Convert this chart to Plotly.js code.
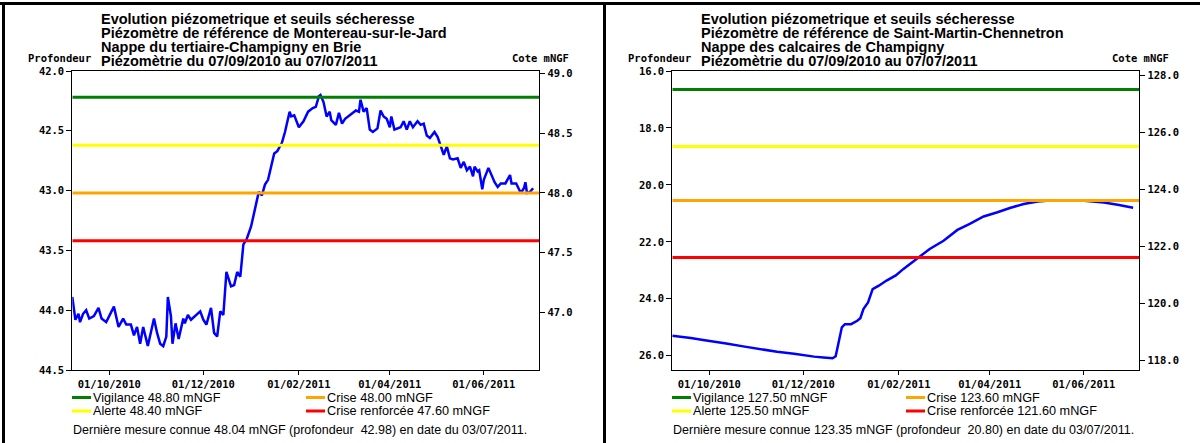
<!DOCTYPE html>
<html><head><meta charset="utf-8">
<script src="https://cdn.plot.ly/plotly-3.0.1.min.js"></script>
<style>html,body{margin:0;padding:0;background:#fff}</style>
</head><body><div id="chart" style="width:1200px;height:443px"></div>
<script>
// ---------- DATA ----------
const leftDates = ['2010-09-07','2010-09-09','2010-09-11','2010-09-12','2010-09-14','2010-09-16','2010-09-18','2010-09-21','2010-09-24','2010-09-26','2010-09-29','2010-10-04','2010-10-07','2010-10-10','2010-10-12','2010-10-15','2010-10-17','2010-10-19','2010-10-21','2010-10-23','2010-10-26','2010-10-30','2010-11-01','2010-11-03','2010-11-05','2010-11-07','2010-11-08','2010-11-10','2010-11-11','2010-11-13','2010-11-15','2010-11-18','2010-11-19','2010-11-21','2010-11-23','2010-11-29','2010-12-01','2010-12-03','2010-12-06','2010-12-08','2010-12-10','2010-12-12','2010-12-14','2010-12-16','2010-12-19','2010-12-21','2010-12-23','2010-12-25','2010-12-27','2010-12-29','2011-01-01','2011-01-04','2011-01-06','2011-01-08','2011-01-10','2011-01-12','2011-01-14','2011-01-16','2011-01-18','2011-01-21','2011-01-23','2011-01-26','2011-01-27','2011-01-29','2011-02-01','2011-02-04','2011-02-07','2011-02-10','2011-02-12','2011-02-14','2011-02-15','2011-02-17','2011-02-19','2011-02-21','2011-02-22','2011-02-25','2011-02-27','2011-03-01','2011-03-03','2011-03-06','2011-03-10','2011-03-12','2011-03-13','2011-03-15','2011-03-17','2011-03-19','2011-03-21','2011-03-24','2011-03-26','2011-03-28','2011-03-30','2011-04-01','2011-04-02','2011-04-04','2011-04-08','2011-04-10','2011-04-12','2011-04-14','2011-04-16','2011-04-19','2011-04-21','2011-04-23','2011-04-25','2011-04-27','2011-04-30','2011-05-02','2011-05-04','2011-05-06','2011-05-08','2011-05-10','2011-05-12','2011-05-15','2011-05-17','2011-05-19','2011-05-21','2011-05-23','2011-05-25','2011-05-26','2011-05-28','2011-05-29','2011-05-31','2011-06-01','2011-06-04','2011-06-06','2011-06-08','2011-06-10','2011-06-12','2011-06-15','2011-06-18','2011-06-19','2011-06-22','2011-06-25','2011-06-27','2011-06-28','2011-06-29','2011-07-01','2011-07-03'];
const leftDepth = [43.89,44.08,44.03,44.10,44.03,44.00,44.07,44.05,43.98,44.07,44.10,43.97,44.14,44.07,44.12,44.12,44.21,44.14,44.28,44.14,44.30,44.07,44.19,44.28,44.30,44.22,43.89,44.05,44.28,44.11,44.24,44.07,44.11,44.04,44.08,44.01,44.08,44.12,43.98,44.19,44.22,44.01,44.04,43.68,43.80,43.79,43.68,43.72,43.45,43.41,43.30,43.13,43.01,43.04,42.95,42.91,42.80,42.69,42.67,42.60,42.51,42.34,42.38,42.37,42.47,42.42,42.34,42.31,42.30,42.21,42.20,42.26,42.38,42.34,42.41,42.45,42.35,42.44,42.40,42.37,42.33,42.34,42.24,42.34,42.31,42.49,42.51,42.48,42.33,42.38,42.40,42.47,42.38,42.49,42.47,42.42,42.49,42.42,42.47,42.42,42.45,42.44,42.54,42.56,42.51,42.55,42.63,42.70,42.63,42.73,42.74,42.73,42.81,42.76,42.83,42.80,42.88,42.80,42.84,42.83,42.99,42.91,42.81,42.87,42.93,42.97,42.94,42.94,42.87,42.94,42.94,43.02,42.98,42.93,43.02,43.01,42.98];

const rightDates = ['2010-09-07','2010-09-12','2010-09-19','2010-09-27','2010-10-04','2010-10-12','2010-10-23','2010-11-03','2010-11-14','2010-11-25','2010-12-01','2010-12-08','2010-12-14','2010-12-20','2010-12-22','2010-12-23','2010-12-24','2010-12-25','2010-12-26','2010-12-28','2011-01-01','2011-01-05','2011-01-07','2011-01-09','2011-01-12','2011-01-15','2011-01-19','2011-01-24','2011-01-30','2011-02-04','2011-02-08','2011-02-14','2011-02-21','2011-03-02','2011-03-11','2011-03-19','2011-03-28','2011-04-06','2011-04-14','2011-04-23','2011-05-02','2011-05-10','2011-05-19','2011-05-28','2011-06-05','2011-06-14','2011-06-23','2011-06-29','2011-07-03'];
const rightDepth = [25.30,25.33,25.38,25.45,25.50,25.57,25.67,25.77,25.86,25.93,25.98,26.03,26.06,26.09,26.02,25.77,25.40,25.15,25.00,24.89,24.89,24.77,24.68,24.36,24.13,23.66,23.54,23.36,23.18,22.95,22.78,22.55,22.25,21.96,21.58,21.37,21.11,20.96,20.81,20.67,20.58,20.55,20.55,20.54,20.57,20.62,20.70,20.76,20.80];

const thresholdNames  = ['Vigilance','Alerte','Crise','Crise renforcée'];
const thresholdColors = ['#008000','#ffff00','#ffa500','#ff0000'];
const leftThresholds  = [48.80, 48.40, 48.00, 47.60];
const rightThresholds = [127.50, 125.50, 123.60, 121.60];

const leftTitles  = ['Evolution piézometrique et seuils sécheresse','Piézomètre de référence de Montereau-sur-le-Jard','Nappe du tertiaire-Champigny en Brie','Piézomètrie du 07/09/2010 au 07/07/2011'];
const rightTitles = ['Evolution piézometrique et seuils sécheresse','Piézomètre de référence de Saint-Martin-Chennetron','Nappe des calcaires de Champigny','Piézomètrie du 07/09/2010 au 07/07/2011'];

const leftLast  = {cote: 48.04,  depth: 42.98, date: '03/07/2011'};
const rightLast = {cote: 123.35, depth: 20.80, date: '03/07/2011'};

const periodStart = '2010-09-07', periodEnd = '2011-07-07';
const xTickVals = ['2010-10-01','2010-12-01','2011-02-01','2011-04-01','2011-06-01'];
const xTickText = ['01/10/2010','01/12/2010','01/02/2011','01/04/2011','01/06/2011'];
const leftDepthRange  = [44.5, 42.0];
const rightDepthRange = [26.5, 16.0];
const leftDepthTicks  = [42.0, 42.5, 43.0, 43.5, 44.0, 44.5];
const leftCoteTicks   = [47.0, 47.5, 48.0, 48.5, 49.0];
const rightDepthTicks = [16, 18, 20, 22, 24, 26];
const rightCoteTicks  = [118, 120, 122, 124, 126, 128];

// ---------- LAYOUT HELPERS ----------
const W = 1200, H = 443;
const px = x => x / W, py = y => 1 - y / H;
const tickFont = {family: 'DejaVu Sans Mono', size: 10.5, color: '#000', weight: 'bold'};
const titleFont = {family: 'Liberation Sans, Arial', size: 14.5, color: '#000', weight: 'bold'};
const textFont = {family: 'Liberation Sans, Arial', size: 12.7, color: '#000'};
const lastFont = {family: 'Liberation Sans, Arial', size: 12.5, color: '#000'};

const leftGround = leftLast.cote + leftLast.depth;
const rightGround = rightLast.cote + rightLast.depth;

const traces = [];
function addPanel(xa, yaDepth, yaCote, dates, depth, thresholds) {
  thresholds.forEach((v, i) => {
    traces.push({type: 'scatter', mode: 'lines', x: [periodStart, periodEnd], y: [v, v],
      xaxis: xa, yaxis: yaCote, line: {color: thresholdColors[i], width: 3}, hoverinfo: 'skip', showlegend: false});
  });
  traces.push({type: 'scatter', mode: 'lines', x: dates, y: depth, xaxis: xa, yaxis: yaDepth,
    line: {color: '#0000ff', width: 2.5}, showlegend: false});
}
addPanel('x', 'y', 'y2', leftDates, leftDepth, leftThresholds);
addPanel('x2', 'y3', 'y4', rightDates, rightDepth, rightThresholds);

const yDom = [py(370), py(71)];
const baseX = {type: 'date', range: [periodStart, periodEnd], tickvals: xTickVals, ticktext: xTickText,
  ticks: 'outside', ticklen: 4, tickcolor: '#000', tickfont: tickFont, showgrid: false, zeroline: false,
  showline: true, linecolor: '#000', linewidth: 1, mirror: true, fixedrange: true};
const baseY = {ticks: 'outside', ticklen: 5, tickcolor: '#000', tickfont: tickFont, tickformat: '.1f',
  showgrid: false, zeroline: false, showline: true, linecolor: '#000', linewidth: 1, fixedrange: true};

const annotations = [], shapes = [];
function panelText(ox, titles, thresholds, last) {
  titles.forEach((t, i) => annotations.push({xref: 'paper', yref: 'paper', x: px(ox + 99), y: py(19 + i * 14),
    xanchor: 'left', yanchor: 'middle', text: t, showarrow: false, font: titleFont}));
  annotations.push({xref: 'paper', yref: 'paper', x: px(ox + 26), y: py(58), xanchor: 'left', yanchor: 'middle',
    text: 'Profondeur', showarrow: false, font: tickFont});
  annotations.push({xref: 'paper', yref: 'paper', x: px(ox + 571), y: py(58), xanchor: 'right', yanchor: 'middle',
    text: 'Cote mNGF', showarrow: false, font: tickFont});
  thresholds.forEach((v, i) => {
    const col = Math.floor(i / 2), row = i % 2;
    const x0 = ox + (col ? 306 : 72), yy = 397.5 + row * 13.5;
    shapes.push({type: 'line', xref: 'paper', yref: 'paper', x0: px(x0), x1: px(x0 + 19), y0: py(yy), y1: py(yy),
      line: {color: thresholdColors[i], width: 3}});
    annotations.push({xref: 'paper', yref: 'paper', x: px(x0 + 19), y: py(yy), xanchor: 'left', yanchor: 'middle',
      text: thresholdNames[i] + ' ' + v.toFixed(2) + ' mNGF', showarrow: false, font: textFont});
  });
  annotations.push({xref: 'paper', yref: 'paper', x: px(ox + 71), y: py(430), xanchor: 'left', yanchor: 'middle',
    text: 'Dernière mesure connue ' + last.cote.toFixed(2) + ' mNGF (profondeur \u00a0' + last.depth.toFixed(2) +
      ') en date du ' + last.date + '.', showarrow: false, font: lastFont});
}
panelText(0, leftTitles, leftThresholds, leftLast);
panelText(600, rightTitles, rightThresholds, rightLast);

// frame
shapes.push({type: 'line', xref: 'paper', yref: 'paper', x0: 0, x1: 1, y0: py(3.5), y1: py(3.5), line: {color: '#000', width: 3}});
shapes.push({type: 'line', xref: 'paper', yref: 'paper', x0: px(3.5), x1: px(3.5), y0: 0, y1: py(2), line: {color: '#000', width: 3}});
shapes.push({type: 'line', xref: 'paper', yref: 'paper', x0: px(604.5), x1: px(604.5), y0: 0, y1: py(2), line: {color: '#000', width: 3}});

const layout = {
  width: W, height: H, margin: {l: 0, r: 0, t: 0, b: 0}, paper_bgcolor: '#fff', plot_bgcolor: '#fff',
  showlegend: false,
  xaxis: Object.assign({}, baseX, {domain: [px(72.3), px(539.3)], anchor: 'y'}),
  xaxis2: Object.assign({}, baseX, {domain: [px(672.3), px(1139.3)], anchor: 'y3'}),
  yaxis: Object.assign({}, baseY, {domain: yDom, anchor: 'x', range: leftDepthRange, tickvals: leftDepthTicks, side: 'left', mirror: true}),
  yaxis2: Object.assign({}, baseY, {overlaying: 'y', anchor: 'x', side: 'right',
    range: [leftGround - leftDepthRange[0], leftGround - leftDepthRange[1]], tickvals: leftCoteTicks}),
  yaxis3: Object.assign({}, baseY, {domain: yDom, anchor: 'x2', range: rightDepthRange, tickvals: rightDepthTicks, side: 'left', mirror: true}),
  yaxis4: Object.assign({}, baseY, {overlaying: 'y3', anchor: 'x2', side: 'right',
    range: [rightGround - rightDepthRange[0], rightGround - rightDepthRange[1]], tickvals: rightCoteTicks}),
  annotations: annotations, shapes: shapes
};
Plotly.newPlot('chart', traces, layout, {displayModeBar: false, staticPlot: true});
</script></body></html>
